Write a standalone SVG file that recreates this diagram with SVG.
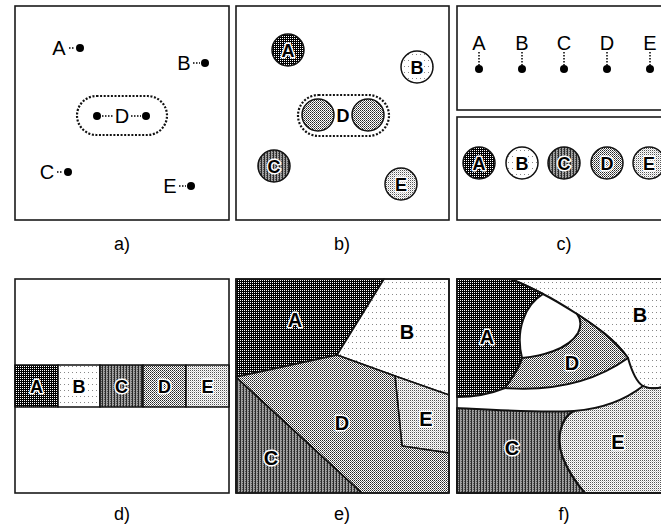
<svg xmlns="http://www.w3.org/2000/svg" width="661" height="528" viewBox="0 0 661 528">
<style>
.box{fill:none;stroke:#1a1a1a;stroke-width:1.6}
.reg{stroke:#111;stroke-width:1.6;stroke-linejoin:round}
.regf{stroke:#111;stroke-width:2;stroke-linejoin:round}
.t{font-family:"Liberation Sans",Arial,sans-serif;font-size:20px;fill:#000;text-anchor:middle}
.cap{font-family:"Liberation Sans",Arial,sans-serif;font-size:18px;fill:#000;text-anchor:middle}
.lab{font-family:"Liberation Sans",Arial,sans-serif;font-size:18px;font-weight:bold;fill:#000;stroke:#fff;stroke-width:3;paint-order:stroke;stroke-linejoin:round;text-anchor:middle}
.big{font-size:20px}
.dot{fill:#000}
.con{stroke:#000;stroke-width:1.5;stroke-dasharray:1.5 1.5;fill:none}
.grp{fill:none;stroke:#111;stroke-width:2.2;stroke-dasharray:2 1.6}
.cir{stroke:#111;stroke-width:1.5}
</style>
<defs>
<pattern id="pA" width="2" height="2" patternUnits="userSpaceOnUse"><rect width="2" height="2" fill="#000"/><rect width="1" height="1" fill="#fff"/></pattern>
<pattern id="pB" width="4" height="6" patternUnits="userSpaceOnUse"><rect width="4" height="6" fill="#fff"/><rect width="1" height="1" fill="#888"/></pattern>
<pattern id="pC" width="3" height="2" patternUnits="userSpaceOnUse"><rect width="3" height="2" fill="#a0a0a0"/><rect width="1" height="2" fill="#2a2a2a"/><rect x="2" y="1" width="1" height="1" fill="#555"/></pattern>
<pattern id="pD" width="2" height="2" patternUnits="userSpaceOnUse"><rect width="2" height="2" fill="#fff"/><rect width="1" height="1" fill="#222"/><rect x="1" y="1" width="1" height="1" fill="#666"/></pattern>
<pattern id="pE" width="2" height="2" patternUnits="userSpaceOnUse"><rect width="2" height="2" fill="#fff"/><rect width="1" height="1" fill="#555"/><rect x="1" y="1" width="1" height="1" fill="#ccc"/></pattern>
</defs>
<rect width="661" height="528" fill="#fff"/>

<!-- Panel a -->
<g id="panel-a">
<rect class="box" x="15" y="6" width="214" height="214"/>
<rect class="grp" x="77" y="96" width="90" height="39" rx="19.5"/>
<g id="a-A"><text class="t" x="59" y="55">A</text><circle class="dot" cx="80" cy="48" r="4"/></g>
<g id="a-B"><text class="t" x="184" y="70">B</text><circle class="dot" cx="205" cy="63" r="4"/></g>
<g id="a-D"><text class="t" x="122" y="123">D</text><circle class="dot" cx="97" cy="116" r="4"/><circle class="dot" cx="146" cy="116" r="4"/></g>
<g id="a-C"><text class="t" x="47" y="179">C</text><circle class="dot" cx="68" cy="172" r="4"/></g>
<g id="a-E"><text class="t" x="170" y="193">E</text><circle class="dot" cx="191" cy="186" r="4"/></g>
<text class="cap" x="122" y="250">a)</text>
</g>

<!-- Panel b -->
<g id="panel-b">
<rect class="box" x="236" y="6" width="213" height="214"/>
<g id="b-A"><circle class="cir" cx="288" cy="50" r="16" fill="url(#pA)"/><text class="lab" x="288" y="56.5">A</text></g>
<g id="b-B"><circle class="cir" cx="417" cy="67" r="16" fill="url(#pB)"/><text class="lab" x="417" y="73.5">B</text></g>
<g id="b-D"><rect class="grp" x="298" y="95" width="91" height="41" rx="20.5"/><circle class="cir" cx="318" cy="115" r="16" fill="url(#pD)"/><circle class="cir" cx="368" cy="115" r="16" fill="url(#pD)"/><text class="lab" x="343" y="121.5">D</text></g>
<g id="b-C"><circle class="cir" cx="274" cy="166" r="16" fill="url(#pC)"/><text class="lab" x="274" y="172.5">C</text></g>
<g id="b-E"><circle class="cir" cx="401" cy="184" r="16" fill="url(#pE)"/><text class="lab" x="401" y="190.5">E</text></g>
<text class="cap" x="342" y="250">b)</text>
</g>

<!-- Panel c -->
<g id="panel-c">
<rect class="box" x="457" y="6" width="214" height="104"/>
<rect class="box" x="457" y="117" width="214" height="103"/>
<g id="c-A"><text class="t" x="479" y="50">A</text><circle class="dot" cx="479" cy="69" r="4"/></g>
<g id="c-B"><text class="t" x="522" y="50">B</text><circle class="dot" cx="522" cy="69" r="4"/></g>
<g id="c-C"><text class="t" x="564" y="50">C</text><circle class="dot" cx="564" cy="69" r="4"/></g>
<g id="c-D"><text class="t" x="607" y="50">D</text><circle class="dot" cx="607" cy="69" r="4"/></g>
<g id="c-E"><text class="t" x="650" y="50">E</text><circle class="dot" cx="650" cy="69" r="4"/></g>
<g id="c2-A"><circle class="cir" cx="479" cy="163" r="16" fill="url(#pA)"/><text class="lab" x="479" y="169.5">A</text></g>
<g id="c2-B"><circle class="cir" cx="522" cy="163" r="16" fill="url(#pB)"/><text class="lab" x="522" y="169.5">B</text></g>
<g id="c2-C"><circle class="cir" cx="564" cy="163" r="16" fill="url(#pC)"/><text class="lab" x="564" y="169.5">C</text></g>
<g id="c2-D"><circle class="cir" cx="607" cy="163" r="16" fill="url(#pD)"/><text class="lab" x="607" y="169.5">D</text></g>
<g id="c2-E"><circle class="cir" cx="649" cy="163" r="16" fill="url(#pE)"/><text class="lab" x="649" y="169.5">E</text></g>
<text class="cap" x="564" y="250">c)</text>
</g>

<!-- connectors -->
<g id="connectors">
<line class="con" x1="69" y1="48" x2="75" y2="48"/>
<line class="con" x1="193" y1="63" x2="200" y2="63"/>
<line class="con" x1="102" y1="116" x2="113" y2="116"/>
<line class="con" x1="131" y1="116" x2="141" y2="116"/>
<line class="con" x1="57" y1="172" x2="63" y2="172"/>
<line class="con" x1="179" y1="186" x2="186" y2="186"/>
<line class="con" x1="479" y1="52" x2="479" y2="65"/>
<line class="con" x1="522" y1="52" x2="522" y2="65"/>
<line class="con" x1="564" y1="52" x2="564" y2="65"/>
<line class="con" x1="607" y1="52" x2="607" y2="65"/>
<line class="con" x1="650" y1="52" x2="650" y2="65"/>
</g>

<!-- Panel d -->
<g id="panel-d">
<rect class="box" x="15" y="279" width="214" height="214"/>
<g id="d-A"><rect class="reg" x="15" y="365" width="43" height="42" fill="url(#pA)"/><text class="lab" x="36.5" y="392.5">A</text></g>
<g id="d-B"><rect class="reg" x="58" y="365" width="42" height="42" fill="url(#pB)"/><text class="lab" x="79" y="392.5">B</text></g>
<g id="d-C"><rect class="reg" x="100" y="365" width="43" height="42" fill="url(#pC)"/><text class="lab" x="121.5" y="392.5">C</text></g>
<g id="d-D"><rect class="reg" x="143" y="365" width="43" height="42" fill="url(#pD)"/><text class="lab" x="164.5" y="392.5">D</text></g>
<g id="d-E"><rect class="reg" x="186" y="365" width="43" height="42" fill="url(#pE)"/><text class="lab" x="207.5" y="392.5">E</text></g>
<text class="cap" x="122" y="520">d)</text>
</g>

<!-- Panel e -->
<g id="panel-e">
<g id="e-A"><polygon class="reg" points="236,279 384,279 337,355 236,377" fill="url(#pA)"/><text class="lab big" x="295" y="327">A</text></g>
<g id="e-B"><polygon class="reg" points="384,279 449,279 449,395 395,376 337,355" fill="url(#pB)"/><text class="lab big" x="407" y="339">B</text></g>
<g id="e-E"><polygon class="reg" points="395,376 449,395 449,453 402,446" fill="url(#pE)"/><text class="lab big" x="426" y="426">E</text></g>
<g id="e-C"><polygon class="reg" points="236,377 362,493 236,493" fill="url(#pC)"/><text class="lab big" x="271" y="465">C</text></g>
<g id="e-D"><polygon class="reg" points="236,377 337,355 395,376 402,446 449,453 449,493 362,493" fill="url(#pD)"/><text class="lab big" x="342" y="430">D</text></g>
<rect class="box" x="236" y="279" width="213" height="214"/>
<text class="cap" x="342" y="520">e)</text>
</g>

<!-- Panel f -->
<g id="panel-f">
<g id="f-B"><path class="regf" fill="url(#pB)" d="M510 279 L671 279 L671 386 C656 388 650 390 643 386 C636 382 632 372 628 358 C615 340 597 327 577 314 C566 307 555 300 543 294 C533 289 522 283 510 279 Z"/><text class="lab big" x="640" y="322">B</text></g>
<g id="f-A"><path class="regf" fill="url(#pA)" d="M457 279 L510 279 C522 283 533 289 543 294 C525 305 515 330 522 358 C520 368 512 378 505 388 C490 394 475 397 457 397 Z"/><text class="lab big" x="487" y="344">A</text></g>
<g id="f-D"><path class="regf" fill="url(#pD)" d="M577 314 C597 327 615 340 628 358 C600 378 560 392 505 388 C512 378 520 368 522 358 C540 356 568 350 578 333 C582 325 580 318 577 314 Z"/><text class="lab big" x="572" y="370">D</text></g>
<g id="f-C"><path class="regf" fill="url(#pC)" d="M457 408 C495 410 540 413 574 411 C560 418 556 440 563 458 C570 475 578 485 585 493 L457 493 Z"/><text class="lab big" x="512" y="455">C</text></g>
<g id="f-E"><path class="regf" fill="url(#pE)" d="M574 411 C600 409 625 400 643 386 C650 390 656 388 671 386 L671 493 L585 493 C578 485 570 475 563 458 C556 440 560 418 574 411 Z"/><text class="lab big" x="618" y="449">E</text></g>
<rect class="box" x="457" y="279" width="214" height="214"/>
<text class="cap" x="564" y="520">f)</text>
</g>
</svg>
